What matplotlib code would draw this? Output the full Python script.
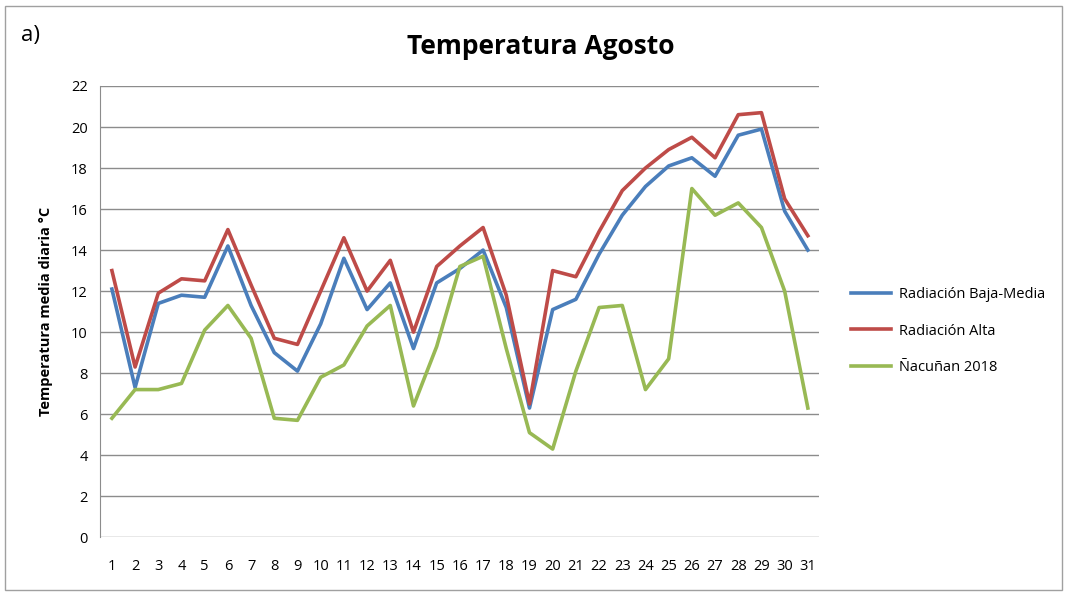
import numpy as np
import matplotlib.pyplot as plt
from matplotlib.patches import Rectangle

dias = list(range(1, 32))
baja_media = [12.1, 7.3, 11.4, 11.8, 11.7, 14.2, 11.3, 9.0, 8.1, 10.4, 13.6, 11.1, 12.4, 9.2, 12.4, 13.1,
              14.0, 11.2, 6.3, 11.1, 11.6, 13.8, 15.7, 17.1, 18.1, 18.5, 17.6, 19.6, 19.9, 15.9, 14.0]
alta = [13.0, 8.3, 11.9, 12.6, 12.5, 15.0, 12.3, 9.7, 9.4, 12.0, 14.6, 12.0, 13.5, 10.0, 13.2, 14.2,
        15.1, 11.8, 6.5, 13.0, 12.7, 14.9, 16.9, 18.0, 18.9, 19.5, 18.5, 20.6, 20.7, 16.5, 14.7]
nacunan = [5.8, 7.2, 7.2, 7.5, 10.1, 11.3, 9.7, 5.8, 5.7, 7.8, 8.4, 10.3, 11.3, 6.4, 9.3, 13.2,
           13.7, 9.2, 5.1, 4.3, 8.1, 11.2, 11.3, 7.2, 8.7, 17.0, 15.7, 16.3, 15.1, 12.0, 6.3]
yticks = list(range(0, 23, 2))

plt.rcParams['font.family'] = ['Open Sans', 'DejaVu Sans']

fig = plt.figure(figsize=(10.67, 5.93), dpi=100)
fig.patches.append(Rectangle((5/1067, 3/593), 1057/1067, 584/593, transform=fig.transFigure,
                             fill=False, edgecolor='#a0a0a0', lw=1))
ax = fig.add_axes([0.094, 0.094, 0.674, 0.761])

ax.plot(dias, baja_media, color='#4A7EBB', lw=2.6, label='Radiación Baja-Media')
ax.plot(dias, alta, color='#BE4B48', lw=2.6, label='Radiación Alta')
ax.plot(dias, nacunan, color='#98B954', lw=2.6, label='Ñacuñan 2018')

ax.set_xlim(0.5, 31.5)
ax.set_ylim(0, 22)
ax.set_xticks(dias)
ax.set_yticks(yticks)
ax.tick_params(axis='y', length=0, labelsize=10.5, pad=9)
ax.tick_params(axis='x', length=0, labelsize=10.5, pad=16)
ax.grid(axis='y', color='#8c8c8c', lw=1)
ax.set_axisbelow(True)
for s in ['top', 'right', 'bottom']:
    ax.spines[s].set_visible(False)
ax.spines['left'].set_color('#8c8c8c')

ax.set_ylabel('Temperatura media diaria °C', fontsize=10.5, fontweight='bold', labelpad=13)
fig.text(0.507, 0.922, 'Temperatura Agosto', ha='center', va='center', fontsize=19, fontweight='bold')
fig.text(0.02, 0.94, 'a)', ha='left', va='center', fontsize=16)

ax.legend(loc='center left', bbox_to_anchor=(1.025, 0.457), frameon=False, fontsize=10.5,
          handlelength=2.8, handletextpad=0.5, labelspacing=1.45)

fig.savefig('out.png', dpi=100)
